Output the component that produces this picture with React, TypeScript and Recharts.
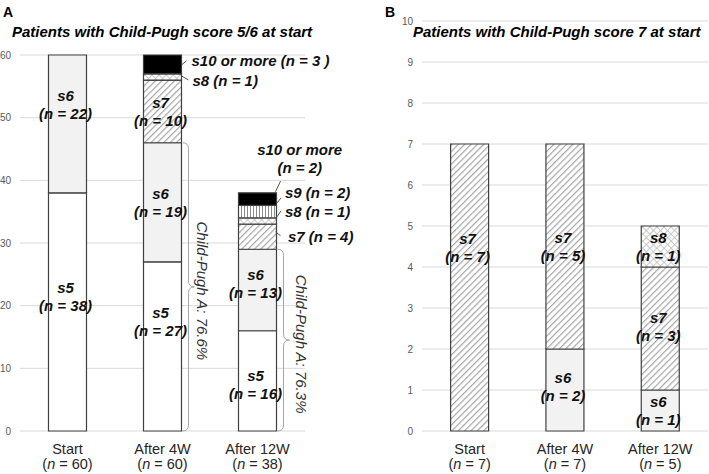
import React from 'react';
import { BarChart, Bar, XAxis, YAxis, CartesianGrid, LabelList } from 'recharts';

const FONT = '"Liberation Sans", Arial, Helvetica, sans-serif';

// ---------- data ----------
const categories = ['Start', 'After 4W', 'After 12W'];
const totalsA = [60, 60, 38];
const aS5 = [38, 27, 16];
const aS6 = [22, 19, 13];
const aS7 = [0, 10, 4];
const aS8 = [0, 1, 1];
const aS9 = [0, 0, 2];
const aS10 = [0, 3, 2];
const braceLabelsA = ['', 'Child-Pugh A: 76.6%', 'Child-Pugh A: 76.3%'];
const yTicksA = [0, 10, 20, 30, 40, 50, 60];

const totalsB = [7, 7, 5];
const bS6 = [0, 2, 1];
const bS7 = [7, 5, 3];
const bS8 = [0, 0, 1];
const yTicksB = [0, 1, 2, 3, 4, 5, 6, 7, 8, 9, 10];

const dataA = categories.map((name, i) => ({
  name, n: totalsA[i], s5: aS5[i], s6: aS6[i], s7: aS7[i], s8: aS8[i], s9: aS9[i], s10: aS10[i],
}));
const dataB = categories.map((name, i) => ({
  name, n: totalsB[i], s6: bS6[i], s7: bS7[i], s8: bS8[i],
}));

// ---------- label layout (style) ----------
type Spec =
  | null
  | { kind: 'in'; dy: number; dx?: number }
  | { kind: 'ext1'; tx: number; ty: number; l: [number, number, number, number]; text: string }
  | { kind: 'ext2'; tx: number; ty: number; l: [number, number, number, number] };

const specA: Record<string, Spec[]> = {
  s5: [{ kind: 'in', dy: -15 }, { kind: 'in', dy: -25 }, { kind: 'in', dy: 4 }],
  s6: [{ kind: 'in', dy: -19 }, { kind: 'in', dy: 0 }, { kind: 'in', dy: -7 }],
  s7: [null, { kind: 'in', dy: 0 }, { kind: 'ext1', tx: 11.5, ty: 5.3, l: [-1, -5, 4, -1], text: '' }],
  s8: [null, { kind: 'ext1', tx: 11, ty: 9, l: [0, -1, 7, 3], text: '' }, { kind: 'ext1', tx: 8.4, ty: -4, l: [0.5, -4.3, 4.5, -10.3], text: '' }],
  s9: [null, null, { kind: 'ext1', tx: 8.4, ty: -13.7, l: [0.5, -8.7, 4.5, -13.7], text: '' }],
  s10: [null, { kind: 'ext1', tx: 10, ty: 1.5, l: [0, 0.5, 5, -3.5], text: 's10 or more (n = 3 )' }, { kind: 'ext2', tx: 23.2, ty: -44, l: [-1, -7.4, 4, -18] }],
};
const specB: Record<string, Spec[]> = {
  s6: [null, { kind: 'in', dy: -4 }, { kind: 'in', dy: 0 }],
  s7: [{ kind: 'in', dy: -40 }, { kind: 'in', dy: 0 }, { kind: 'in', dy: -2 }],
  s8: [null, null, { kind: 'in', dy: 0 }],
};
const braceTextDx = [0, 21, 25];

const labelStyle = {
  fontFamily: FONT, fontSize: 15, fontWeight: 700, fontStyle: 'italic' as const, fill: '#111',
};

function bracePath(x0: number, top: number, bottom: number, r: number) {
  const mid = (top + bottom) / 2;
  return [
    `M ${x0} ${top}`,
    `Q ${x0 + r} ${top} ${x0 + r} ${top + r}`,
    `L ${x0 + r} ${mid - r}`,
    `Q ${x0 + r} ${mid} ${x0 + 2 * r} ${mid}`,
    `Q ${x0 + r} ${mid} ${x0 + r} ${mid + r}`,
    `L ${x0 + r} ${bottom - r}`,
    `Q ${x0 + r} ${bottom} ${x0} ${bottom}`,
  ].join(' ');
}

// LabelList uses dataKey="name", so props.value is the category of the segment
function makeContent(spec: Record<string, Spec[]>, key: string, values: number[], brace?: boolean) {
  return (props: any) => {
    const vb = props.viewBox && props.viewBox.width !== undefined ? props.viewBox : props;
    const x = Number(vb.x), y = Number(vb.y), width = Number(vb.width), height = Number(vb.height);
    const i = categories.indexOf(String(props.value));
    if (i < 0) return <g />;
    const v = values[i];
    if (!v || !isFinite(x)) return <g />;
    const cx = x + width / 2;
    const cy = y + height / 2;
    const bx = x + width;
    const s = spec[key][i];
    const name = key === 's10' ? 's10 or more' : key;
    const els: React.ReactNode[] = [];
    if (s && s.kind === 'in') {
      const dx = s.dx ?? -2;
      els.push(
        <text key="a" x={cx + dx} y={cy + s.dy - 9 + 5.5} textAnchor="middle" {...labelStyle}>{name}</text>,
        <text key="b" x={cx + dx} y={cy + s.dy + 9 + 5.5} textAnchor="middle" {...labelStyle}>{`(n = ${v})`}</text>,
      );
    } else if (s && s.kind === 'ext1') {
      const t = s.text || `${name} (n = ${v})`;
      els.push(
        <line key="l" x1={bx + s.l[0]} y1={cy + s.l[1]} x2={bx + s.l[2]} y2={cy + s.l[3]} stroke="#404040" strokeWidth={0.9} />,
        <text key="t" x={bx + s.tx} y={cy + s.ty} textAnchor="start" {...labelStyle}>{t}</text>,
      );
    } else if (s && s.kind === 'ext2') {
      els.push(
        <line key="l" x1={bx + s.l[0]} y1={cy + s.l[1]} x2={bx + s.l[2]} y2={cy + s.l[3]} stroke="#404040" strokeWidth={0.9} />,
        <text key="t1" x={bx + s.tx} y={cy + s.ty} textAnchor="middle" {...labelStyle}>{name}</text>,
        <text key="t2" x={bx + s.tx} y={cy + s.ty + 18} textAnchor="middle" {...labelStyle}>{`(n = ${v})`}</text>,
      );
    }
    if (brace && braceLabelsA[i]) {
      const perUnit = height / v;
      const bottom = y + height;
      const top = bottom - (aS5[i] + aS6[i]) * perUnit;
      const x0 = bx + 1;
      const mid = (top + bottom) / 2;
      const tx = bx + braceTextDx[i];
      const ty = mid + 4;
      els.push(
        <path key="br" d={bracePath(x0, top, bottom, 6)} fill="none" stroke="#a6a6a6" strokeWidth={1} />,
        <text key="bt" x={tx} y={ty} transform={`rotate(90 ${tx} ${ty})`} textAnchor="middle" dominantBaseline="central"
          fontFamily={FONT} fontSize={15} fontStyle="italic" fill="#333">{braceLabelsA[i]}</text>,
      );
    }
    return <g>{els}</g>;
  };
}

const XTick = (props: any) => {
  const { x, y, payload, ns } = props;
  const idx = categories.indexOf(String(payload.value));
  const n = ns[idx < 0 ? 0 : idx];
  return (
    <g>
      <text x={x} y={y + 23} textAnchor="middle" fontFamily={FONT} fontSize={14.5} fill="#262626">{payload.value}</text>
      <text x={x} y={y + 38} textAnchor="middle" fontFamily={FONT} fontSize={14.5} fill="#262626">
        <tspan>(</tspan><tspan fontStyle="italic">n</tspan><tspan>{` = ${n})`}</tspan>
      </text>
    </g>
  );
};

const barStroke = { stroke: '#404040', strokeWidth: 1.2 };

function Patterns({ p }: { p: string }) {
  return (
    <defs>
      <pattern id={`${p}-diag`} width={4.5} height={4.5} patternUnits="userSpaceOnUse" patternTransform="rotate(45)">
        <rect width={4.5} height={4.5} fill="#ffffff" />
        <line x1={0.6} y1={0} x2={0.6} y2={4.5} stroke="#a6a6a6" strokeWidth={1.2} />
      </pattern>
      <pattern id={`${p}-cross`} width={5} height={5} patternUnits="userSpaceOnUse" patternTransform="rotate(45)">
        <rect width={5} height={5} fill="#ffffff" />
        <line x1={0.5} y1={0} x2={0.5} y2={5} stroke="#c4c4c4" strokeWidth={0.9} />
        <line x1={0} y1={0.5} x2={5} y2={0.5} stroke="#c4c4c4" strokeWidth={0.9} />
      </pattern>
      <pattern id={`${p}-vert`} width={3} height={3} patternUnits="userSpaceOnUse">
        <rect width={3} height={3} fill="#ffffff" />
        <line x1={1.5} y1={0} x2={1.5} y2={3} stroke="#7f7f7f" strokeWidth={0.9} />
      </pattern>
    </defs>
  );
}

const yTickStyle = { fontSize: 10, fill: '#595959', fontFamily: FONT };

export default function App() {
  return (
    <div style={{ position: 'absolute', left: 0, top: 0, width: 709, height: 474, background: '#fff', overflow: 'hidden' }}>
      <div style={{ position: 'absolute', left: 0, top: 0 }}>
        <BarChart width={360} height={474} data={dataA} margin={{ top: 55, right: 55, bottom: 0, left: 0 }} barCategoryGap="30%">
          <Patterns p="a" />
          <CartesianGrid vertical={false} stroke="#d9d9d9" />
          <XAxis dataKey="name" axisLine={false} tickLine={false} tickSize={0} tickMargin={0} height={43} interval={0}
            tick={(p: any) => <XTick {...p} ns={totalsA} />} />
          <YAxis width={20} domain={[0, 60]} ticks={yTicksA} interval={0} axisLine={false} tickLine={false} tickSize={0} tickMargin={9} tick={yTickStyle} />
          <Bar dataKey="s5" stackId="a" fill="#ffffff" {...barStroke} isAnimationActive={false}>
            <LabelList dataKey="name" content={makeContent(specA, 's5', aS5, true)} />
          </Bar>
          <Bar dataKey="s6" stackId="a" fill="#f2f2f2" {...barStroke} isAnimationActive={false}>
            <LabelList dataKey="name" content={makeContent(specA, 's6', aS6)} />
          </Bar>
          <Bar dataKey="s7" stackId="a" fill="url(#a-diag)" {...barStroke} isAnimationActive={false}>
            <LabelList dataKey="name" content={makeContent(specA, 's7', aS7)} />
          </Bar>
          <Bar dataKey="s8" stackId="a" fill="url(#a-cross)" {...barStroke} isAnimationActive={false}>
            <LabelList dataKey="name" content={makeContent(specA, 's8', aS8)} />
          </Bar>
          <Bar dataKey="s9" stackId="a" fill="url(#a-vert)" {...barStroke} isAnimationActive={false}>
            <LabelList dataKey="name" content={makeContent(specA, 's9', aS9)} />
          </Bar>
          <Bar dataKey="s10" stackId="a" fill="#000000" {...barStroke} isAnimationActive={false}>
            <LabelList dataKey="name" content={makeContent(specA, 's10', aS10)} />
          </Bar>
        </BarChart>
      </div>
      <div style={{ position: 'absolute', left: 360, top: 0 }}>
        <BarChart width={349} height={474} data={dataB} margin={{ top: 21, right: 1, bottom: 0, left: 0 }} barCategoryGap="30%">
          <Patterns p="b" />
          <CartesianGrid vertical={false} stroke="#d9d9d9" />
          <XAxis dataKey="name" axisLine={false} tickLine={false} tickSize={0} tickMargin={0} height={43} interval={0}
            tick={(p: any) => <XTick {...p} ns={totalsB} />} />
          <YAxis width={62} domain={[0, 10]} ticks={yTicksB} interval={0} axisLine={false} tickLine={false} tickSize={0} tickMargin={9} tick={yTickStyle} />
          <Bar dataKey="s6" stackId="b" fill="#f2f2f2" {...barStroke} isAnimationActive={false}>
            <LabelList dataKey="name" content={makeContent(specB, 's6', bS6)} />
          </Bar>
          <Bar dataKey="s7" stackId="b" fill="url(#b-diag)" {...barStroke} isAnimationActive={false}>
            <LabelList dataKey="name" content={makeContent(specB, 's7', bS7)} />
          </Bar>
          <Bar dataKey="s8" stackId="b" fill="url(#b-cross)" {...barStroke} isAnimationActive={false}>
            <LabelList dataKey="name" content={makeContent(specB, 's8', bS8)} />
          </Bar>
        </BarChart>
      </div>
      <svg width={709} height={474} style={{ position: 'absolute', left: 0, top: 0, pointerEvents: 'none' }}>
        <text x={3} y={17} fontFamily={FONT} fontSize={14} fontWeight={700} fill="#000">A</text>
        <text x={12} y={37} fontFamily={FONT} fontSize={15} fontWeight={700} fontStyle="italic" fill="#000">Patients with Child-Pugh score 5/6 at start</text>
        <text x={385} y={17} fontFamily={FONT} fontSize={14} fontWeight={700} fill="#000">B</text>
        <text x={413} y={37} fontFamily={FONT} fontSize={15} fontWeight={700} fontStyle="italic" fill="#000">Patients with Child-Pugh score 7 at start</text>
      </svg>
    </div>
  );
}
